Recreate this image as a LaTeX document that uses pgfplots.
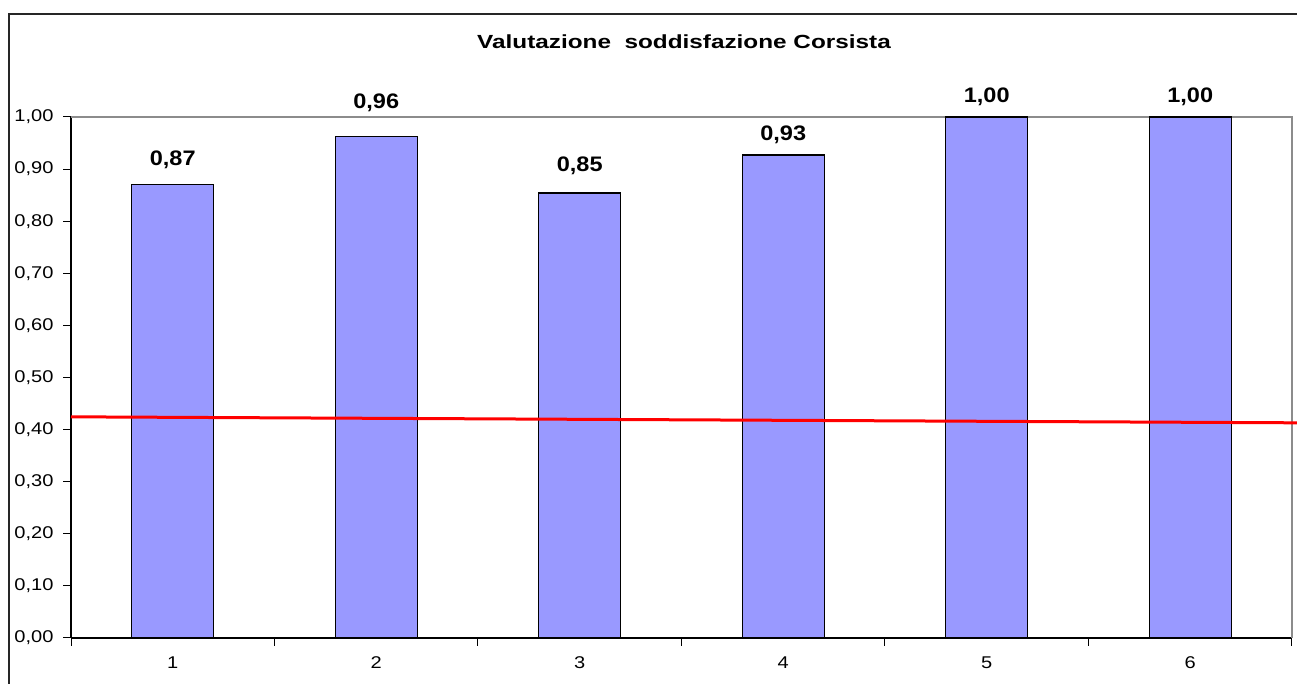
\documentclass[border=0pt]{standalone}
\usepackage{pgfplots}
\pgfplotsset{compat=1.18}
\usepackage{fontspec}
\setmainfont{Liberation Sans}
\newfontfamily\tickfont{Liberation Sans}[FakeStretch=1.18]
\newfontfamily\labfont{Liberation Sans}[FakeStretch=1.12]
\newfontfamily\titfont{Liberation Sans}[FakeStretch=1.28]
\definecolor{barblue}{HTML}{9999FF}
\begin{document}
\begin{tikzpicture}[x=1pt,y=1pt]
\begin{axis}[
  at={(71pt,46pt)}, anchor=south west,
  width=1221pt, height=521pt, scale only axis,
  xmin=0.5, xmax=6.5, ymin=0, ymax=1,
  axis lines*=left,
  axis line style={black, line width=1.2pt},
  clip=false,
  ybar, bar width=82pt,
  xtick={1,2,3,4,5,6},
  minor xtick={0.5,1.5,2.5,3.5,4.5,5.5,6.5},
  major x tick style={draw=none},
  minor x tick style={black, line width=1pt},
  minor tick length=8pt,
  ytick={0,0.1,0.2,0.3,0.4,0.5,0.6,0.7,0.8,0.9,1.0},
  major tick length=8pt,
  y tick style={black, line width=1pt},
  tick align=outside,
  tick pos=left,
  /pgf/number format/assume math mode=true,
  yticklabel style={xshift=-6pt, /pgf/number format/use comma, /pgf/number format/fixed, /pgf/number format/fixed zerofill, /pgf/number format/precision=2},
  ticklabel style={font=\tickfont\fontsize{17}{20}\selectfont},
  xticklabel style={yshift=-7pt},
]
\draw[gray!90, line width=1.2pt] (rel axis cs:0,1) -- (rel axis cs:1,1) -- (rel axis cs:1,0);
\addplot[fill=barblue, draw=black, line width=1.2pt,
  nodes near coords,
  visualization depends on={\thisrow{dy} \as \dy},
  every node near coord/.append style={font=\labfont\fontsize{21}{24}\selectfont\bfseries, anchor=center, yshift=\dy pt,
    /pgf/number format/use comma, /pgf/number format/fixed, /pgf/number format/fixed zerofill, /pgf/number format/precision=2},
] table[x=x, y=y] {
x y dy
1 0.871 24
2 0.963 33.5
3 0.854 27
4 0.927 20.5
5 1.000 20
6 1.000 20
};
\addplot[red, line width=3pt, sharp plot, forget plot] coordinates {
  (0.5,0.4245) (6.53,0.413)};
\end{axis}
\draw[black!85, line width=1.5pt] (9,-10) -- (9,670) -- (1310,670);
\node[font=\titfont\fontsize{19}{22}\selectfont\bfseries] at (684,642) {Valutazione\ \ soddisfazione Corsista};
\pgfresetboundingbox
\path[use as bounding box] (0,0) rectangle (1297,684);
\end{tikzpicture}
\end{document}
